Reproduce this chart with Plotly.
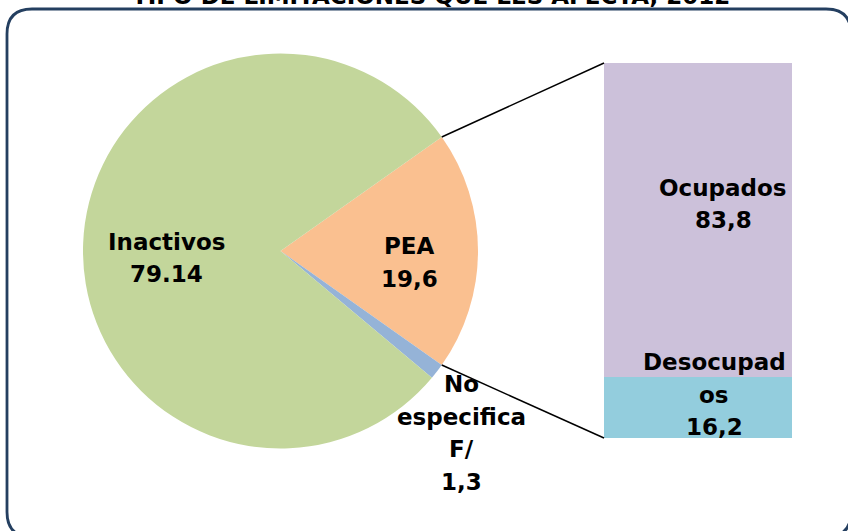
import math

import plotly.graph_objects as go

W, H = 848, 531

title_text = "TIPO DE LIMITACIONES QUE LES AFECTA, 2012"

pie_names = ["PEA", "No<br>especifica<br>F/", "Inactivos"]
pie_values = [19.6, 1.3, 79.14]
pie_value_text = ["19,6", "1,3", "79.14"]
pie_colors = ["#FAC090", "#95B3D7", "#C3D69B"]

bar_names = ["Desocupad<br>os", "Ocupados"]
bar_values = [16.2, 83.8]
bar_value_text = ["16,2", "83,8"]
bar_colors = ["#93CDDD", "#CCC1DA"]

FONT = dict(family="DejaVu Sans", size=23, color="black")
LINE_STEP = 32.5


def px(x):
    return x / W


def py(y):
    return 1 - y / H


def add_label(fig, name, val, x, y):
    # one annotation per line so the line spacing can follow the reference
    lines = name.split("<br>") + [val]
    n = len(lines)
    for i, line in enumerate(lines):
        fig.add_annotation(
            text=f"<b>{line}</b>",
            x=px(x), y=py(y + (i - (n - 1) / 2) * LINE_STEP),
            xref="paper", yref="paper",
            xanchor="center", yanchor="middle",
            showarrow=False, font=FONT,
        )


# pie geometry (pixels)
cx, cy, r = 280.5, 251, 197.5
total = sum(pie_values)
rotation = 90 - pie_values[0] / total * 360 / 2

fig = go.Figure()

fig.add_trace(
    go.Pie(
        labels=[n.replace("<br>", " ") for n in pie_names],
        values=pie_values,
        marker=dict(colors=pie_colors),
        sort=False,
        direction="clockwise",
        rotation=rotation,
        textinfo="none",
        hoverinfo="label+value",
        showlegend=False,
        domain=dict(x=[px(cx - r), px(cx + r)], y=[py(cy + r), py(cy - r)]),
    )
)

# stacked bar of the PEA breakdown
for name, val, col in zip(bar_names, bar_values, bar_colors):
    fig.add_trace(
        go.Bar(
            x=[0],
            y=[val],
            width=1,
            marker=dict(color=col, line=dict(width=0)),
            name=name.replace("<br>", ""),
            showlegend=False,
            xaxis="x2",
            yaxis="y2",
        )
    )

bar_left, bar_right, bar_top, bar_bottom = 604, 792, 63, 438

# connector lines from the PEA slice edges to the bar corners
a1 = math.radians(rotation)
a2 = math.radians(rotation + pie_values[0] / total * 360)
p1 = (cx + r * math.sin(a1), cy - r * math.cos(a1))
p2 = (cx + r * math.sin(a2), cy - r * math.cos(a2))
for (x0, y0), (x1, y1) in [(p1, (bar_left, bar_top)), (p2, (bar_left, bar_bottom))]:
    fig.add_shape(
        type="line", xref="paper", yref="paper",
        x0=px(x0), y0=py(y0), x1=px(x1), y1=py(y1),
        line=dict(color="black", width=1.5),
    )

# rounded border
L, T, R, B, rr = 7, 9, 851, 537, 25
path = (
    f"M {px(L)},{py(T + rr)} Q {px(L)},{py(T)} {px(L + rr)},{py(T)} "
    f"L {px(R - rr)},{py(T)} Q {px(R)},{py(T)} {px(R)},{py(T + rr)} "
    f"L {px(R)},{py(B - rr)} Q {px(R)},{py(B)} {px(R - rr)},{py(B)} "
    f"L {px(L + rr)},{py(B)} Q {px(L)},{py(B)} {px(L)},{py(B - rr)} Z"
)
fig.add_shape(
    type="path", xref="paper", yref="paper", path=path,
    line=dict(color="#243F60", width=2.8),
)

# labels
pie_label_pos = [(409, 262.5), (462, 433), (166, 258)]
bar_label_pos = [(714, 394.5), (723, 204)]
for name, val, (x, y) in zip(pie_names, pie_value_text, pie_label_pos):
    add_label(fig, name, val, x, y)
for name, val, (x, y) in zip(bar_names, bar_value_text, bar_label_pos):
    add_label(fig, name, val, x, y)

# title, mostly above the visible page (cut off in the original too)
fig.add_annotation(
    text=f"<b>{title_text}</b>", x=px(431), y=py(11.5),
    xref="paper", yref="paper", xanchor="center", yanchor="bottom",
    showarrow=False,
    font=dict(family="DejaVu Sans", size=23, color="black"),
)

fig.update_layout(
    width=W,
    height=H,
    margin=dict(l=0, r=0, t=0, b=0),
    paper_bgcolor="white",
    plot_bgcolor="rgba(0,0,0,0)",
    barmode="stack",
    bargap=0,
    xaxis=dict(visible=False),
    yaxis=dict(visible=False),
    xaxis2=dict(
        domain=[px(bar_left), px(bar_right)], range=[-0.5, 0.5],
        visible=False, anchor="y2",
    ),
    yaxis2=dict(
        domain=[py(bar_bottom), py(bar_top)], range=[0, 100],
        visible=False, anchor="x2",
    ),
)

# drop the default page margin so the figure sits at the window's corner
fig.write_html(
    "out.html",
    config={"displayModeBar": False},
    post_script="document.body.style.margin='0px';",
)
